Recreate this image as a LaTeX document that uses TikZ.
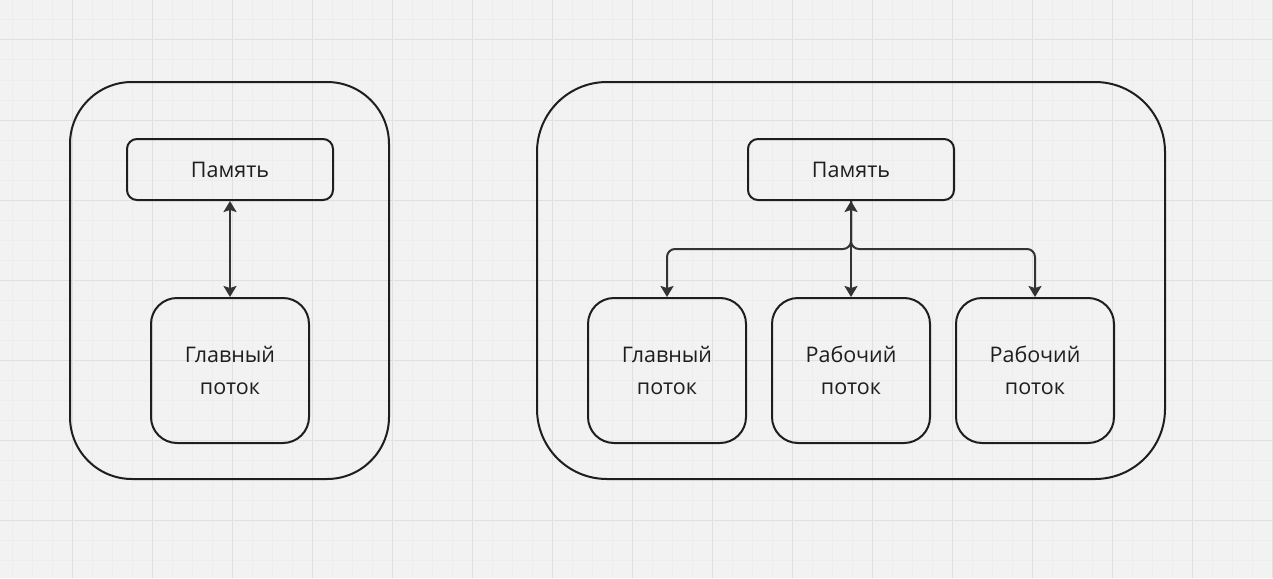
\documentclass[tikz,border=0pt]{standalone}
\usepackage{fontspec}
\setmainfont{Open Sans}
\usetikzlibrary{arrows.meta}
\definecolor{paper}{HTML}{F2F2F2}
\definecolor{gridlo}{HTML}{EDEDED}
\definecolor{gridhi}{HTML}{E0E0E0}
\definecolor{ink}{HTML}{1E1E1E}
\definecolor{wire}{HTML}{333333}
\tikzset{process/.style={draw=ink, line width=2pt, rounded corners=62pt}}
\tikzset{box/.style={draw=ink, line width=2pt, align=center, text=ink,
  font=\fontsize{21.5}{32}\selectfont}}
\tikzset{mem/.style={box, rounded corners=10pt, minimum width=206pt, minimum height=61pt}}
\tikzset{thread/.style={box, rounded corners=26pt, minimum width=158pt, minimum height=145pt}}
\tikzset{link/.style={wire, line width=2pt, {Stealth[length=11pt,width=13pt,inset=2pt]}-{Stealth[length=11pt,width=13pt,inset=2pt]}}}
\tikzset{branch/.style={wire, line width=2pt, rounded corners=8pt, -{Stealth[length=11pt,width=13pt,inset=2pt]}}}

\begin{document}
\begin{tikzpicture}[x=1pt, y=-1pt]
        % Background
        \useasboundingbox (0,0) rectangle (1273,578);
        \fill[paper] (0,0) rectangle (1273,578);
        \foreach \gx in {12,32,...,1272} \draw[gridlo, line width=1pt] (\gx,0) -- (\gx,578);
        \foreach \gy in {0,20,...,570} \draw[gridlo, line width=1pt] (0,\gy) -- (1273,\gy);
        \foreach \gx in {72,152,...,1272} \draw[gridhi, line width=1pt] (\gx,0) -- (\gx,578);
        \foreach \gy in {40,120,...,570} \draw[gridhi, line width=1pt] (0,\gy) -- (1273,\gy);
        % Single thread
        \draw[process] (70,82) rectangle (389,479);
        \node[mem] (memA) at (230,169.5) {Память};
        \node[thread] (mainA) at (230,370.5) {Главный\\поток};
        \draw[link] (memA) -- (mainA);
        % Several threads
        \draw[process, rounded corners=70pt] (537,82) rectangle (1165,479);
        \node[mem] (memB) at (851,169.5) {Память};
        \node[thread] (mainB) at (667,370.5) {Главный\\поток};
        \node[thread] (workB) at (851,370.5) {Рабочий\\поток};
        \node[thread] (workC) at (1035,370.5) {Рабочий\\поток};
        \draw[link] (memB) -- (workB);
        \draw[branch] (memB.south) -- ++(0,48) -| (mainB.north);
        \draw[branch] (memB.south) -- ++(0,48) -| (workC.north);
\end{tikzpicture}
\end{document}
